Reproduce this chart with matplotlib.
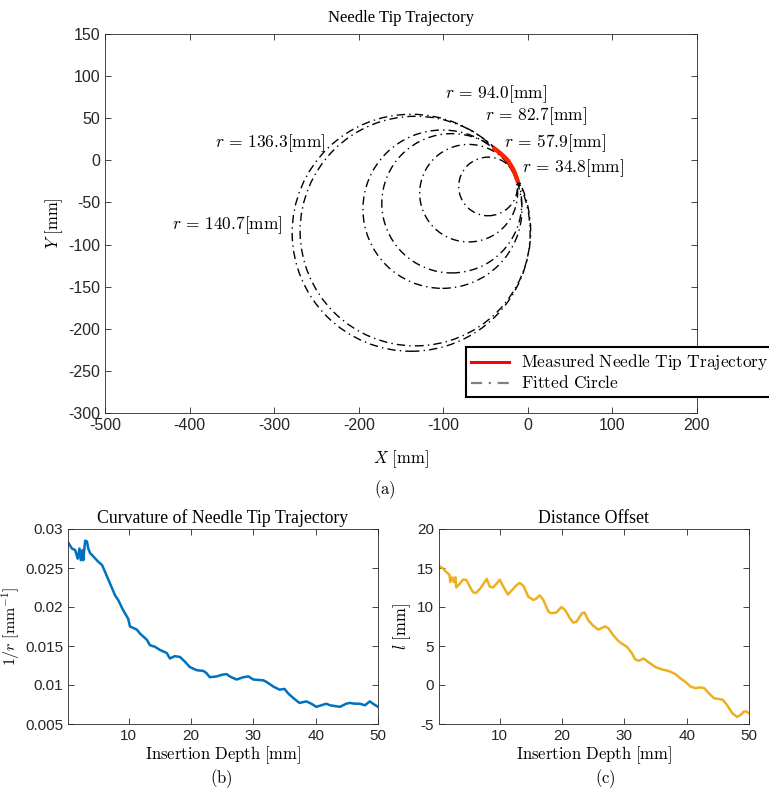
import numpy as np
import matplotlib
matplotlib.use("Agg")
import matplotlib.pyplot as plt
from matplotlib.patches import Circle
from matplotlib.lines import Line2D
from matplotlib.ticker import FormatStrFormatter

plt.rcParams['mathtext.fontset'] = 'cm'
plt.rcParams['font.family'] = 'Liberation Sans'
plt.rcParams['axes.unicode_minus'] = False

# fitted circles (a)
radius = [34.8, 57.9, 82.7, 94.0, 136.3, 140.7]
center_x = [-47, -70, -90, -101, -133, -138]
center_y = [-31, -39, -51, -58, -84, -86]
label_x = [-7, -28, -51, -98, -370, -421]
label_y = [-9.5, 21, 52, 78, 20, -77]

# measured needle tip trajectory (a)
traj_x = [-41.4, -36.0, -31.1, -27.0, -23.3, -20.2, -17.4, -15.2, -13.4, -11.5]
traj_y = [15.3, 11.2, 7.1, 3.2, -0.8, -5.8, -10.6, -15.6, -20.4, -26.3]

# curvature (b)
curv_x = [0.33, 0.87, 1.4, 1.8, 2.1, 2.3, 2.6, 2.7, 3.0, 3.3, 3.5, 3.8, 4.3, 5.1, 5.7,
          6.2, 7.0, 7.8, 8.3, 9.1, 9.9, 10.2, 11.3, 11.8, 12.9, 13.4, 14.2, 15.0, 16.1,
          16.6, 17.4, 18.2, 19.0, 19.8, 20.9, 22.0, 22.5, 23.0, 24.1, 24.9, 25.7, 26.2,
          27.3, 28.4, 29.2, 30.0, 31.6, 32.1, 33.2, 34.2, 35.0, 35.6, 36.6, 37.4, 38.5,
          39.3, 40.1, 40.9, 41.7, 42.3, 43.1, 43.9, 44.9, 45.5, 46.3, 47.1, 47.9, 48.7,
          49.2, 50.0]
curv_y = [0.0282, 0.0275, 0.0273, 0.0262, 0.0275, 0.0260, 0.0273, 0.0260, 0.0285, 0.0284,
          0.0275, 0.0269, 0.0265, 0.0258, 0.0254, 0.0245, 0.0230, 0.0215, 0.0209, 0.0196,
          0.0185, 0.0175, 0.0171, 0.0166, 0.0158, 0.0151, 0.0149, 0.0145, 0.0141, 0.0134,
          0.0137, 0.0136, 0.0130, 0.0123, 0.0119, 0.0118, 0.0115, 0.0110, 0.0111, 0.0113,
          0.0114, 0.0111, 0.0107, 0.0110, 0.0111, 0.0107, 0.0106, 0.0104, 0.0098, 0.0094,
          0.0095, 0.0089, 0.0082, 0.0077, 0.0079, 0.0076, 0.0072, 0.0074, 0.0076, 0.0074,
          0.0073, 0.0072, 0.0076, 0.0077, 0.0076, 0.0076, 0.0074, 0.0079, 0.0076, 0.0072]

# distance offset (c)
dist_x = [0.23, 0.87, 1.4, 1.95, 2.05, 2.4, 2.6, 2.9, 3.0, 3.6, 4.1, 4.6, 5.2, 5.7, 6.2,
          7.0, 7.9, 8.4, 8.9, 9.5, 10.0, 10.5, 11.3, 11.9, 12.7, 13.2, 13.8, 14.6, 15.4,
          15.9, 16.4, 17.0, 17.8, 18.3, 19.1, 19.9, 20.5, 21.3, 21.8, 22.3, 23.2, 23.6,
          24.2, 25.0, 25.8, 26.9, 27.4, 28.3, 29.1, 29.6, 30.4, 31.2, 31.7, 32.3, 33.1,
          33.9, 35.0, 36.0, 37.1, 38.2, 39.0, 39.8, 40.6, 41.4, 42.2, 42.8, 43.6, 44.4,
          45.2, 45.8, 46.5, 47.3, 48.1, 48.7, 49.2, 49.6, 50.1]
dist_y = [15.26, 14.96, 14.5, 14.1, 13.2, 13.8, 13.2, 13.8, 12.5, 13.0, 13.5, 13.5, 12.6,
          11.9, 11.8, 12.5, 13.6, 12.6, 12.5, 13.0, 13.5, 12.7, 11.6, 12.1, 12.8, 13.1,
          12.7, 11.3, 10.9, 11.1, 11.5, 10.9, 9.4, 9.2, 9.3, 10.0, 9.6, 8.5, 8.0, 8.1,
          9.2, 9.3, 8.3, 7.6, 7.1, 7.5, 7.3, 6.3, 5.6, 5.3, 4.9, 4.1, 3.3, 3.1, 3.4, 2.9,
          2.3, 2.0, 1.8, 1.4, 0.85, 0.4, -0.2, -0.4, -0.3, -0.4, -1.1, -1.7, -1.8, -1.9,
          -2.6, -3.6, -4.1, -3.8, -3.4, -3.4, -3.7]

W, H = 769, 792
fig = plt.figure(figsize=(W / 100, H / 100), dpi=100)


def px_axes(left, top, right, bottom):
    return fig.add_axes([left / W, 1 - bottom / H, (right - left) / W, (bottom - top) / H])


def matlab_style(ax, size):
    ax.tick_params(direction='in', top=True, right=True, length=4, width=0.6,
                   labelsize=size, colors='#262626')
    for s in ax.spines.values():
        s.set_color('#262626')
        s.set_linewidth(0.6)


ax = px_axes(105, 34, 697, 413)
matlab_style(ax, 11.5)
for cx, cy, r in zip(center_x, center_y, radius):
    ax.add_patch(Circle((cx, cy), r, fill=False, color='k', lw=1.0,
                        linestyle=(0, (6, 3, 1, 3))))
ax.plot(traj_x, traj_y, color='#ff2200', lw=3.2, solid_capstyle='butt')
for lx, ly, r in zip(label_x, label_y, radius):
    ax.text(lx, ly, r"$r\,=\,%.1f[\mathrm{mm}]$" % r, fontsize=12.5, ha='left', va='center')
ax.set_xlim(-500, 200)
ax.set_ylim(-300, 150)
ax.set_xticks(range(-500, 201, 100))
ax.set_yticks(range(-300, 151, 50))
ax.set_title("Needle Tip Trajectory", family='Liberation Serif', fontsize=12, pad=9)
ax.set_xlabel(r"$X\ [\mathrm{mm}]$", fontsize=12, labelpad=11)
ax.set_ylabel(r"$Y\ [\mathrm{mm}]$", fontsize=12, labelpad=2)

handles = [Line2D([], [], color='#ff0000', lw=2.2),
           Line2D([], [], color='#808080', lw=1.6, linestyle=(0, (5, 3, 1, 3)))]
leg = ax.legend(handles, ["Measured Needle Tip Trajectory", "Fitted Circle"],
                loc='upper left', bbox_to_anchor=(466 / W, 1 - 347 / H),
                bbox_transform=fig.transFigure, fancybox=False, framealpha=1,
                edgecolor='k', prop={'family': 'DejaVu Serif', 'size': 10.5},
                handlelength=2.6, borderpad=0.35, labelspacing=0.2, borderaxespad=0)
leg.get_frame().set_linewidth(1.5)
for t in leg.get_texts():
    t.set_text(r"$\mathrm{%s}$" % t.get_text().replace(" ", r"\ "))
    t.set_fontsize(12.5)
fig.text(385 / W, 1 - 490 / H, r"$\mathrm{(a)}$", fontsize=12, ha='center', va='center')

# (b)
ax2 = px_axes(68, 529, 378, 724)
matlab_style(ax2, 11)
ax2.plot(curv_x, curv_y, color='#0072BD', lw=1.8)
ax2.set_xlim(0.25, 50)
ax2.set_ylim(0.005, 0.03)
ax2.set_xticks([10, 20, 30, 40, 50])
ax2.set_yticks([0.005, 0.01, 0.015, 0.02, 0.025, 0.03])
ax2.yaxis.set_major_formatter(FormatStrFormatter('%g'))
ax2.set_title("Curvature of Needle Tip Trajectory", family='Liberation Serif',
              fontsize=12.8, pad=4)
ax2.set_xlabel(r"$\mathrm{Insertion\ Depth\ [mm]}$", fontsize=12, labelpad=1)
ax2.set_ylabel(r"$1/r\ [\mathrm{mm}^{-1}]$", fontsize=11.5)
ax2.yaxis.set_label_coords(-0.148, 0.5)
fig.text(221 / W, 1 - 779 / H, r"$\mathrm{(b)}$", fontsize=12, ha='center', va='center')

# (c)
ax3 = px_axes(439, 529, 749, 724)
matlab_style(ax3, 11)
ax3.plot(dist_x, dist_y, color='#EDB120', lw=1.8)
ax3.set_xlim(0.25, 50)
ax3.set_ylim(-5, 20)
ax3.set_xticks([10, 20, 30, 40, 50])
ax3.set_yticks([-5, 0, 5, 10, 15, 20])
ax3.set_title("Distance Offset", family='Liberation Serif', fontsize=12.8, pad=4)
ax3.set_xlabel(r"$\mathrm{Insertion\ Depth\ [mm]}$", fontsize=12, labelpad=1)
ax3.set_ylabel(r"$l\ [\mathrm{mm}]$", fontsize=12, labelpad=3)
fig.text(605 / W, 1 - 779 / H, r"$\mathrm{(c)}$", fontsize=12, ha='center', va='center')

fig.savefig("out.png", dpi=100)
